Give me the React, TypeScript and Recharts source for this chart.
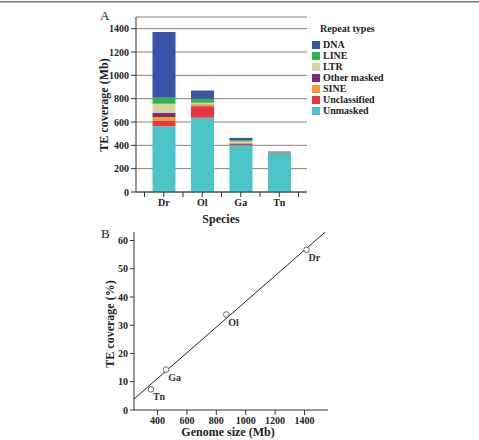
import {
  BarChart,
  Bar,
  XAxis,
  YAxis,
  CartesianGrid,
  Legend,
  ScatterChart,
  Scatter,
} from 'recharts'

// panel A: TE coverage per species (Mb), stacked by repeat type
const species = ['Dr', 'Ol', 'Ga', 'Tn']
const unmasked = [564, 637, 402, 335]
const unclassified = [45, 99, 12, 6]
const sine = [34, 10, 5, 2]
const otherMasked = [37, 4, 2, 1]
const ltr = [77, 15, 12, 3]
const lineRep = [51, 34, 11, 2]
const dna = [563, 71, 20, 2]
const coverageTicks = [0, 200, 400, 600, 800, 1000, 1200, 1400]

// panel B: genome size vs TE coverage (%)
const pointNames = ['Dr', 'Ol', 'Ga', 'Tn']
const genomeSize = [1414, 868, 459, 355]
const tePercent = [56.7, 33.8, 14.3, 7.3]
const fitGenome = [240, 1541]
const fitPercent = [3.9, 63]
const genomeTicks = [400, 600, 800, 1000, 1200, 1400]
const percentTicks = [0, 10, 20, 30, 40, 50, 60]

const repeatTypes = [
  { key: 'unmasked', name: 'Unmasked', color: '#4bc4c7', values: unmasked },
  { key: 'unclassified', name: 'Unclassified', color: '#e8363f', values: unclassified },
  { key: 'sine', name: 'SINE', color: '#f59b30', values: sine },
  { key: 'other', name: 'Other masked', color: '#7b2c7e', values: otherMasked },
  { key: 'ltr', name: 'LTR', color: '#d6d49f', values: ltr },
  { key: 'line', name: 'LINE', color: '#33b44a', values: lineRep },
  { key: 'dna', name: 'DNA', color: '#3a55a7', values: dna },
]

const barData = species.map((sp, i) => {
  const row: Record<string, string | number> = { sp }
  repeatTypes.forEach((r) => (row[r.key] = r.values[i]))
  return row
})

const points = pointNames.map((name, i) => ({ name, x: genomeSize[i], y: tePercent[i] }))
const fitLine = fitGenome.map((x, i) => ({ x, y: fitPercent[i] }))

const FONT = '"Liberation Serif", "DejaVu Serif", serif'
const AXIS = '#333'
const FRAME = '#808080'
const tickStyle = { fontSize: 10, fontWeight: 700, fill: '#222', fontFamily: FONT }

const A_PLOT_W = 171
const A_PAD = 8.5
const BAND = (A_PLOT_W - 2 * A_PAD) / species.length

function SpeciesTick(props: any) {
  const { x, y, payload, index } = props
  const y0 = y - 7
  return (
    <g>
      <line x1={x - BAND / 2} x2={x - BAND / 2} y1={y0} y2={y0 + 5} stroke={AXIS} />
      {index === species.length - 1 && (
        <line x1={x + BAND / 2} x2={x + BAND / 2} y1={y0} y2={y0 + 5} stroke={AXIS} />
      )}
      <text x={x} y={y} dy="0.71em" textAnchor="middle" {...tickStyle}>
        {payload.value}
      </text>
    </g>
  )
}

function RepeatLegend() {
  return (
    <div style={{ fontFamily: FONT, fontSize: 10, fontWeight: 700, color: '#222', lineHeight: '11px' }}>
      <div style={{ marginLeft: 8, marginBottom: 5 }}>Repeat types</div>
      {[...repeatTypes].reverse().map((r) => (
        <div key={r.key} style={{ display: 'flex', alignItems: 'center', height: 11 }}>
          <span style={{ width: 8, height: 8, background: r.color, marginRight: 3 }} />
          <span>{r.name}</span>
        </div>
      ))}
    </div>
  )
}

function OpenPoint(props: any) {
  const { cx, cy, payload } = props
  return (
    <g>
      <circle cx={cx} cy={cy} r={2.8} fill="#fff" stroke="#555" strokeWidth={0.9} />
      <text x={cx + 2} y={cy + 11} fontSize={10} fontWeight={700} fill="#333" fontFamily={FONT}>
        {payload.name}
      </text>
    </g>
  )
}

export default function App() {
  return (
    <div style={{ position: 'absolute', left: 0, top: 0, width: 479, height: 440, background: '#fff', overflow: 'hidden' }}>
      <div style={{ position: 'absolute', left: 0, top: 0 }}>
        <BarChart
          width={479}
          height={228}
          data={barData}
          margin={{ top: 17, right: 172, bottom: 8, left: 96 }}
          barSize={23}
        >
          <CartesianGrid vertical={false} stroke={FRAME} />
          <XAxis
            dataKey="sp"
            height={28}
            padding={{ left: A_PAD, right: A_PAD }}
            stroke={AXIS}
            tickSize={5}
            tickMargin={2}
            tick={<SpeciesTick />}
          />
          <XAxis xAxisId="top" dataKey="sp" orientation="top" height={0} tick={false} tickLine={false} stroke={FRAME} />
          <YAxis
            width={40}
            domain={[0, 1500]}
            ticks={coverageTicks}
            stroke={AXIS}
            tickSize={5}
            tickMargin={2}
            tick={tickStyle}
            interval={0}
          />
          <YAxis yAxisId="right" orientation="right" width={0} tick={false} tickLine={false} stroke={FRAME} />
          <Legend
            layout="vertical"
            align="center"
            verticalAlign="middle"
            content={<RepeatLegend />}
            wrapperStyle={{ position: 'absolute', left: 312, top: 23, width: 110 }}
          />
          {repeatTypes.map((r) => (
            <Bar key={r.key} dataKey={r.key} name={r.name} stackId="te" fill={r.color} isAnimationActive={false} />
          ))}
        </BarChart>
      </div>

      <div style={{ position: 'absolute', left: 0, top: 222 }}>
        <ScatterChart width={479} height={218} margin={{ top: 10, right: 151, bottom: 0, left: 94 }}>
          <XAxis
            type="number"
            dataKey="x"
            domain={[240, 1560]}
            ticks={genomeTicks}
            allowDataOverflow
            height={30}
            stroke={AXIS}
            tickSize={5}
            tickMargin={2}
            tick={tickStyle}
            interval={0}
          />
          <XAxis xAxisId="top" type="number" orientation="top" domain={[240, 1560]} height={0} tick={false} tickLine={false} stroke={FRAME} />
          <YAxis
            type="number"
            dataKey="y"
            domain={[0, 63]}
            ticks={percentTicks}
            allowDataOverflow
            width={40}
            stroke={AXIS}
            tickSize={4}
            tickMargin={2}
            tick={tickStyle}
            interval={0}
          />
          <YAxis yAxisId="right" type="number" orientation="right" width={0} tick={false} tickLine={false} stroke={FRAME} />
          <Scatter
            data={fitLine}
            line={{ stroke: '#222', strokeWidth: 1 }}
            shape={() => <g />}
            legendType="none"
            isAnimationActive={false}
          />
          <Scatter data={points} shape={<OpenPoint />} isAnimationActive={false} />
        </ScatterChart>
      </div>

      <svg
        width={479}
        height={440}
        style={{ position: 'absolute', left: 0, top: 0, pointerEvents: 'none' }}
        fontFamily={FONT}
      >
        <rect x={0} y={1} width={479} height={1.5} fill="#777" />
        <text x={100} y={20} fontSize={13} fill="#222">A</text>
        <text
          transform="translate(103.5,105) rotate(-90)"
          textAnchor="middle"
          dominantBaseline="central"
          fontSize={12}
          fontWeight={700}
          fill="#222"
        >
          TE coverage (Mb)
        </text>
        <text x={221} y={223} textAnchor="middle" fontSize={12} fontWeight={700} fill="#222">Species</text>

        <text x={101} y={237.5} fontSize={13} fill="#222">B</text>
        <text
          transform="translate(110,324) rotate(-90)"
          textAnchor="middle"
          dominantBaseline="central"
          fontSize={12}
          fontWeight={700}
          fill="#222"
        >
          TE coverage (%)
        </text>
        <text x={228} y={436} textAnchor="middle" fontSize={12} fontWeight={700} fill="#222">Genome size (Mb)</text>
      </svg>
    </div>
  )
}
